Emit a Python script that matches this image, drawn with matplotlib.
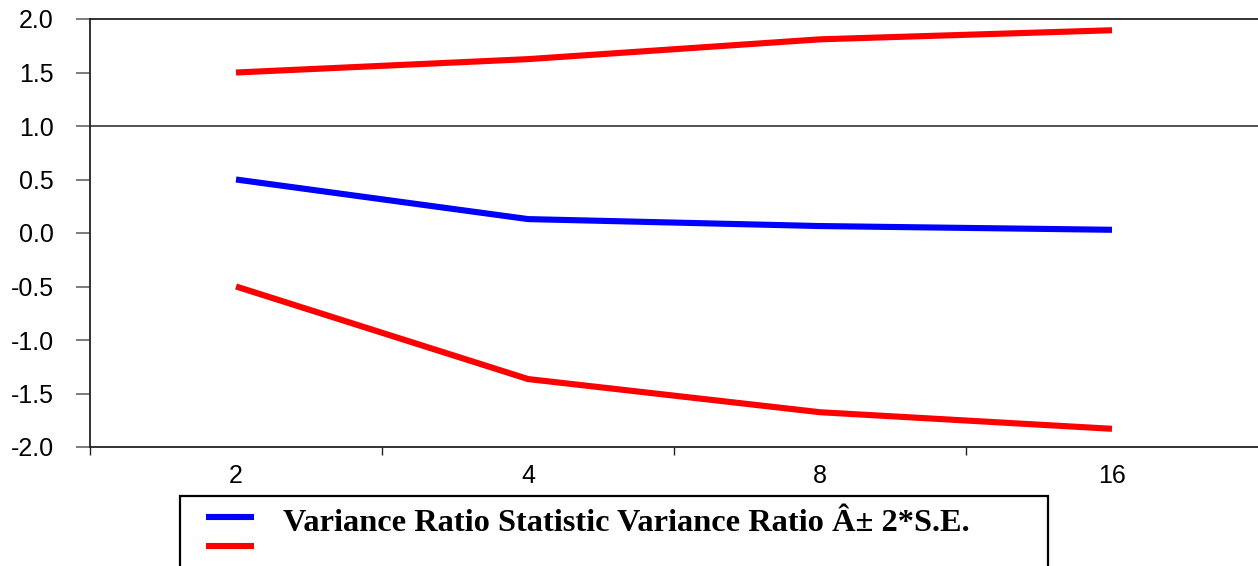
import matplotlib
matplotlib.use("Agg")
import matplotlib.pyplot as plt
from matplotlib.patches import Rectangle
from matplotlib.lines import Line2D

# data
periods = ["2", "4", "8", "16"]
vr_stat = [0.50, 0.13, 0.065, 0.03]
upper_band = [1.50, 1.625, 1.81, 1.895]
lower_band = [-0.50, -1.365, -1.675, -1.83]
y_ticks = [-2.0, -1.5, -1.0, -0.5, 0.0, 0.5, 1.0, 1.5, 2.0]
legend_label = "Variance Ratio Statistic Variance Ratio Â± 2*S.E."

W, H = 1258, 566
fig = plt.figure(figsize=(W / 100, H / 100), dpi=100)
ax = fig.add_axes([90 / W, 1 - 447 / H, 1 - 90 / W, (447 - 19) / H])

x = list(range(len(periods)))
lw = 4.4
ax.plot(x, upper_band, color="#ff0000", lw=lw, solid_capstyle="butt", zorder=3)
ax.plot(x, vr_stat, color="#0000ff", lw=lw, solid_capstyle="butt", zorder=3)
ax.plot(x, lower_band, color="#ff0000", lw=lw, solid_capstyle="butt", zorder=3)
ax.axhline(1.0, color="#444444", lw=1.3, zorder=2)

ax.set_xlim(-0.5, len(periods) - 0.5)
ax.set_ylim(-2.0, 2.0)

ax.set_xticks(x)
ax.set_xticklabels(periods)
ax.set_xticks([i - 0.5 for i in range(len(periods))], minor=True)
ax.tick_params(axis="x", which="major", length=0, pad=12, labelsize=18)
ax.tick_params(axis="x", which="minor", length=6, width=1, color="#222222", direction="out")

ax.set_yticks(y_ticks)
ax.set_yticklabels([f"{v:.1f}" for v in y_ticks])
ax.tick_params(axis="y", length=10, width=1.2, color="#666666", pad=16, labelsize=18)

for lab in ax.get_xticklabels() + ax.get_yticklabels():
    lab.set_fontfamily("Liberation Sans")

ax.spines["right"].set_visible(False)
for s in ["left", "top", "bottom"]:
    ax.spines[s].set_color("#222222")
    ax.spines[s].set_linewidth(1.3)

# legend box (cut at the figure bottom)
fx = lambda px: px / W
fy = lambda py: 1 - py / H
fig.add_artist(Rectangle((fx(180), fy(580)), fx(1048) - fx(180), fy(496) - fy(580),
                         transform=fig.transFigure, fill=False, edgecolor="black", lw=1.6))
fig.add_artist(Line2D([fx(206), fx(254)], [fy(517), fy(517)], transform=fig.transFigure,
                      color="#0000ff", lw=lw, solid_capstyle="butt"))
fig.add_artist(Line2D([fx(206), fx(254)], [fy(546), fy(546)], transform=fig.transFigure,
                      color="#ff0000", lw=lw, solid_capstyle="butt"))
fig.text(fx(283), fy(531), legend_label, fontsize=23.3, fontweight="bold",
         family="Liberation Serif", va="baseline", ha="left")

fig.savefig("out.png", dpi=100)
